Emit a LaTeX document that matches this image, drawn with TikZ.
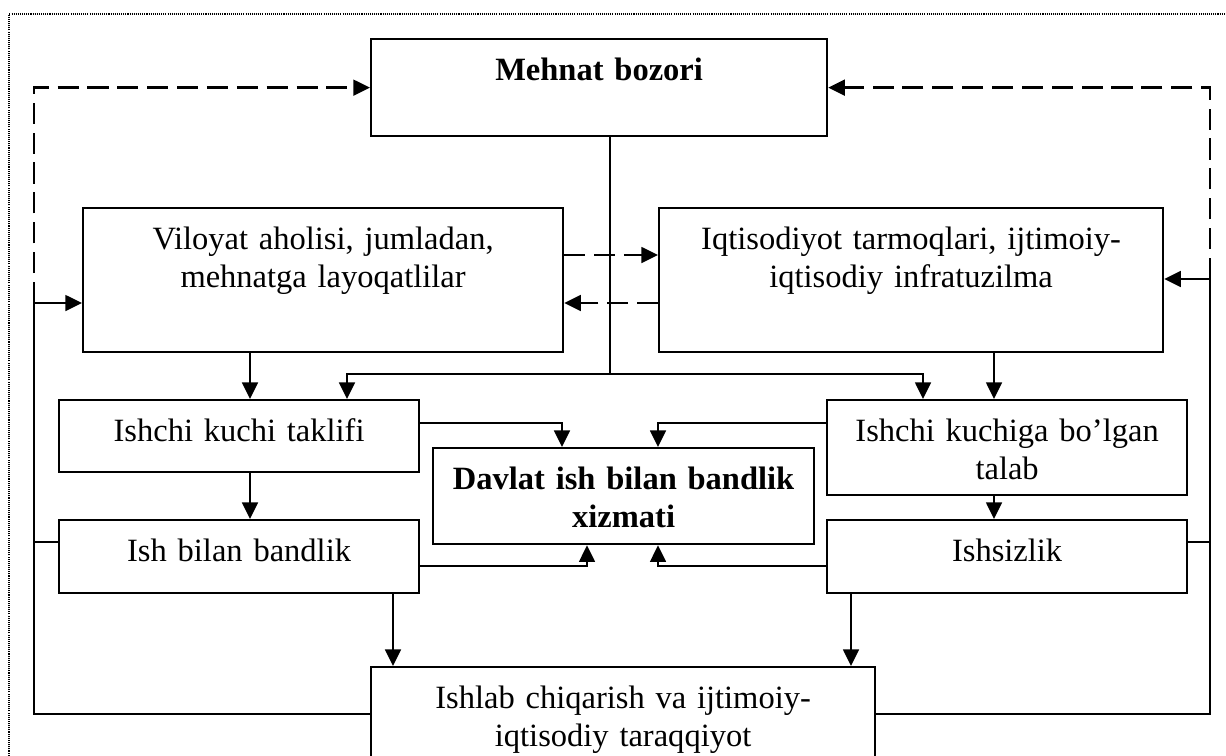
\documentclass[tikz,border=0pt]{standalone}
\usepackage{fontspec}
\setmainfont{Liberation Serif}
\usetikzlibrary{arrows.meta}

\tikzset{
  box/.style={draw, line width=1.3pt, anchor=north west, inner sep=0pt,
    align=center, text height=0.82cm, font=\fontsize{18.5}{22}\selectfont},
  arr/.style={line width=1.3pt, -{Triangle[length=9.5pt,width=9pt]}},
  conn/.style={line width=1.3pt},
  dashy/.style={dash pattern=on 12pt off 5pt}
}

\begin{document}
\begin{tikzpicture}[x=0.02cm, y=-0.02cm]
  \useasboundingbox (0,0) rectangle (1226,755);
  % dotted page frame
  \draw[line width=0.6pt, dash pattern=on 0.6pt off 0.6pt] (9,800) |- (1260,14);

  % boxes
  \node[box, text width=9.12cm, text depth=1.12cm,
        font=\fontsize{18.5}{22}\selectfont\bfseries] (bozor) at (370,38) {Mehnat bozori};
  \node[box, text width=9.6cm, text depth=2.06cm] (viloyat) at (82,207)
       {Viloyat aholisi, jumladan,\\ mehnatga layoqatlilar};
  \node[box, text width=10.08cm, text depth=2.06cm] (iqtisod) at (658,207)
       {Iqtisodiyot tarmoqlari, ijtimoiy-\\ iqtisodiy infratuzilma};
  \node[box, text width=7.2cm, text depth=0.62cm] (taklif) at (58,399) {Ishchi kuchi taklifi};
  \node[box, text width=7.2cm, text depth=1.08cm] (talab) at (826,399)
       {Ishchi kuchiga bo’lgan\\ talab};
  \node[box, text width=7.62cm, text depth=1.1cm,
        font=\fontsize{18.5}{22}\selectfont\bfseries] (davlat) at (432,447)
       {Davlat ish bilan bandlik\\ xizmati};
  \node[box, text width=7.2cm, text depth=0.64cm] (ishbilan) at (58,519) {Ish bilan bandlik};
  \node[box, text width=7.2cm, text depth=0.64cm] (ishsiz) at (826,519) {Ishsizlik};
  \node[box, text width=10.08cm, text depth=1.78cm] (ishlab) at (370,666)
       {Ishlab chiqarish va ijtimoiy-\\ iqtisodiy taraqqiyot};

  % helper points
  \coordinate (hub) at (610,374);
  \coordinate (lft) at (34,303);
  \coordinate (rgt) at (1210,279);
  \foreach \n/\y in {dA/255, rt/423, mid/542, rb/566, loop/714}
    \coordinate (\n) at (0,\y);
  \foreach \n/\x in {ca/250, cb/347, cc/393, cd/562, ce/587, cf/658, cg/851, ch/923, ci/994}
    \coordinate (\n) at (\x,0);

  % feedback to the market
  \draw[arr, dashy] (lft) |- (bozor.west);
  \draw[arr, dashy] (rgt) |- (bozor.east);
  \draw[arr, dashy] (viloyat.east |- dA) -- (iqtisod.west |- dA);
  \draw[arr, dashy] (iqtisod.west |- lft) -- (viloyat.east |- lft);

  % outer loops
  \draw[arr] (ishlab.west |- loop) -| (lft) -- (viloyat.west |- lft);
  \draw[arr] (ishlab.east |- loop) -| (rgt) -- (iqtisod.east |- rgt);
  \draw[conn] (ishbilan.west |- mid) -- (lft |- mid);
  \draw[conn] (ishsiz.east |- mid) -- (rgt |- mid);

  % market to supply and demand
  \draw[line width=0.9pt] (bozor.south -| hub) -- (hub);
  \draw[arr] (hub) -| (taklif.north -| cb);
  \draw[arr] (hub) -| (talab.north -| ch);

  \draw[arr] (viloyat.south -| ca) -- (taklif.north -| ca);
  \draw[arr] (taklif.south -| ca) -- (ishbilan.north -| ca);
  \draw[arr] (iqtisod.south -| ci) -- (talab.north -| ci);
  \draw[arr] (talab.south -| ci) -- (ishsiz.north -| ci);

  % into the employment service
  \draw[arr] (taklif.east |- rt) -| (davlat.north -| cd);
  \draw[arr] (talab.west |- rt) -| (davlat.north -| cf);
  \draw[arr] (ishbilan.east |- rb) -| (davlat.south -| ce);
  \draw[arr] (ishsiz.west |- rb) -| (davlat.south -| cf);

  % down to production
  \draw[arr] (ishbilan.south -| cc) -- (ishlab.north -| cc);
  \draw[arr] (ishsiz.south -| cg) -- (ishlab.north -| cg);
\end{tikzpicture}
\end{document}
